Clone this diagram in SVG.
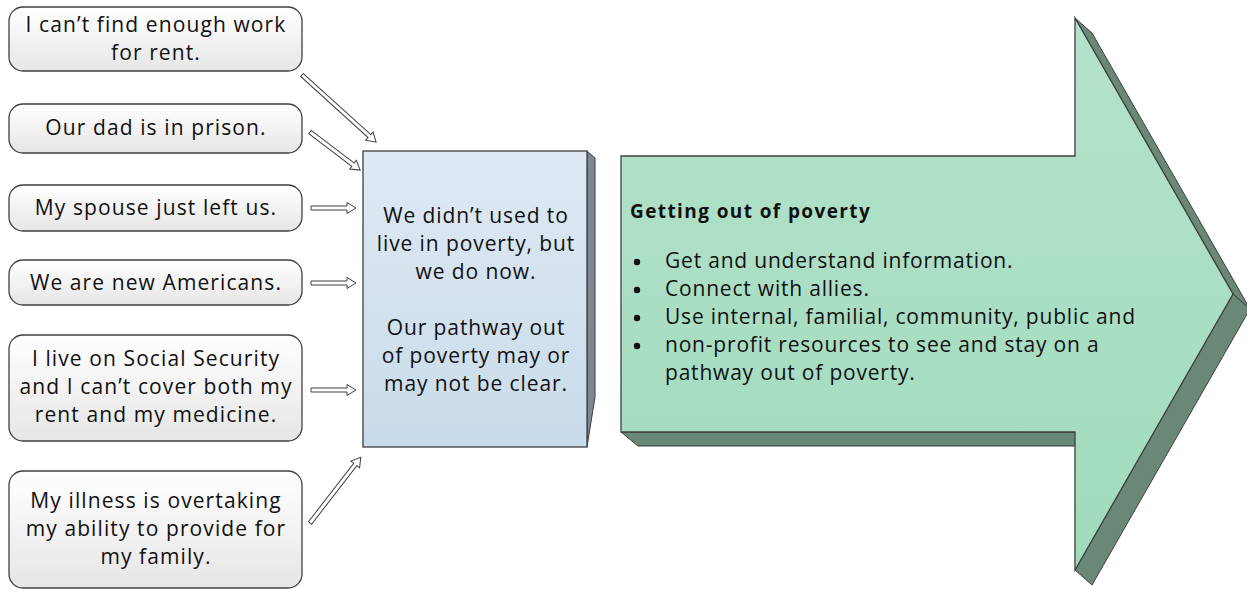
<svg xmlns="http://www.w3.org/2000/svg" width="1247" height="590" viewBox="0 0 1247 590">
<defs>
<linearGradient id="gBox" x1="0" y1="0" x2="0" y2="1"><stop offset="0" stop-color="#ffffff"/><stop offset="1" stop-color="#e6e6e6"/></linearGradient>
<linearGradient id="gCenter" x1="0" y1="0" x2="0" y2="1"><stop offset="0" stop-color="#dfe9f3"/><stop offset="1" stop-color="#c8dbea"/></linearGradient>
<linearGradient id="gArrow" x1="0" y1="0" x2="0" y2="1"><stop offset="0" stop-color="#b5e2cc"/><stop offset="1" stop-color="#a0dbbd"/></linearGradient>
<style>
.box{fill:url(#gBox);stroke:#3f3f3f;stroke-width:1.3}
.t{font-family:"Open Sans","Liberation Sans",sans-serif;font-size:21px;fill:#111;letter-spacing:1.1px}
.c{text-anchor:middle}
.cb{letter-spacing:0.9px}
.conn path{fill:#fff;stroke:#3f3f3f;stroke-width:1}
.bev{fill:#6a8877;stroke:#3f3f3f;stroke-width:1}
.b{font-weight:bold;font-size:19px;letter-spacing:1.4px}
.bl{letter-spacing:0.8px}
</style>
</defs>
<rect width="1247" height="590" fill="#fff"/>

<g id="n1"><rect class="box" x="9" y="7" width="293" height="64" rx="14"/>
<text class="t c" x="156" y="32">I can’t find enough work</text><text class="t c" x="156" y="60">for rent.</text></g>
<g id="n2"><rect class="box" x="9" y="104" width="293" height="49" rx="14"/>
<text class="t c" x="156" y="135">Our dad is in prison.</text></g>
<g id="n3"><rect class="box" x="9" y="185" width="293" height="46" rx="14"/>
<text class="t c" x="156" y="215">My spouse just left us.</text></g>
<g id="n4"><rect class="box" x="9" y="260" width="293" height="45" rx="14"/>
<text class="t c" x="156" y="290">We are new Americans.</text></g>
<g id="n5"><rect class="box" x="9" y="335" width="293" height="106" rx="14"/>
<text class="t c" x="156" y="366">I live on Social Security</text><text class="t c" x="156" y="394">and I can’t cover both my</text><text class="t c" x="156" y="422">rent and my medicine.</text></g>
<g id="n6"><rect class="box" x="9" y="471" width="293" height="117" rx="14"/>
<text class="t c" x="156" y="508">My illness is overtaking</text><text class="t c" x="156" y="536">my ability to provide for</text><text class="t c" x="156" y="564">my family.</text></g>

<g id="center">
<polygon points="587,151 595,158 595,397 587,447" fill="#7b8793" stroke="#3f3f3f" stroke-width="1"/>
<rect x="363" y="151" width="224" height="296" fill="url(#gCenter)" stroke="#3f3f3f" stroke-width="1.3"/>
<text class="t c cb" x="476" y="223">We didn’t used to</text>
<text class="t c cb" x="476" y="251">live in poverty, but</text>
<text class="t c cb" x="476" y="279">we do now.</text>
<text class="t c cb" x="476" y="335">Our pathway out</text>
<text class="t c cb" x="476" y="363">of poverty may or</text>
<text class="t c cb" x="476" y="391">may not be clear.</text>
</g>

<g id="bigarrow">
<polygon class="bev" points="621,432 1075,432 1092,446 638,446"/>
<polygon class="bev" points="1075,18 1092,33 1250,309 1233,294"/>
<polygon class="bev" points="1233,294 1250,309 1092,585 1075,570"/>
<path d="M621,156 L1075,156 L1075,18 L1233,294 L1075,570 L1075,432 L621,432 Z" fill="url(#gArrow)" stroke="#3f3f3f" stroke-width="1.3"/>
<text class="t b" x="630" y="218">Getting out of poverty</text>
<g fill="#111"><circle cx="637" cy="262" r="3.2"/><circle cx="637" cy="290" r="3.2"/><circle cx="637" cy="318" r="3.2"/><circle cx="637" cy="346" r="3.2"/></g>
<text class="t bl" x="665" y="268">Get and understand information.</text>
<text class="t bl" x="665" y="296">Connect with allies.</text>
<text class="t bl" x="665" y="324">Use internal, familial, community, public and</text>
<text class="t bl" x="665" y="352">non-profit resources to see and stay on a</text>
<text class="t bl" x="665" y="380">pathway out of poverty.</text>
</g>

<g id="connectors" class="conn">
<path transform="translate(302,75) rotate(42.2)" d="M0,-2 H91 V-5.5 L100,0 L91,5.5 V2 H0 Z"/>
<path transform="translate(310,132) rotate(37.2)" d="M0,-2 H54 V-5.5 L63,0 L54,5.5 V2 H0 Z"/>
<path transform="translate(311,208)" d="M0,-2 H36 V-5.5 L45,0 L36,5.5 V2 H0 Z"/>
<path transform="translate(311,283)" d="M0,-2 H36 V-5.5 L45,0 L36,5.5 V2 H0 Z"/>
<path transform="translate(311,390)" d="M0,-2 H36 V-5.5 L45,0 L36,5.5 V2 H0 Z"/>
<path transform="translate(310,523) rotate(-52.3)" d="M0,-2 H74 V-5.5 L83,0 L74,5.5 V2 H0 Z"/>
</g>
</svg>
